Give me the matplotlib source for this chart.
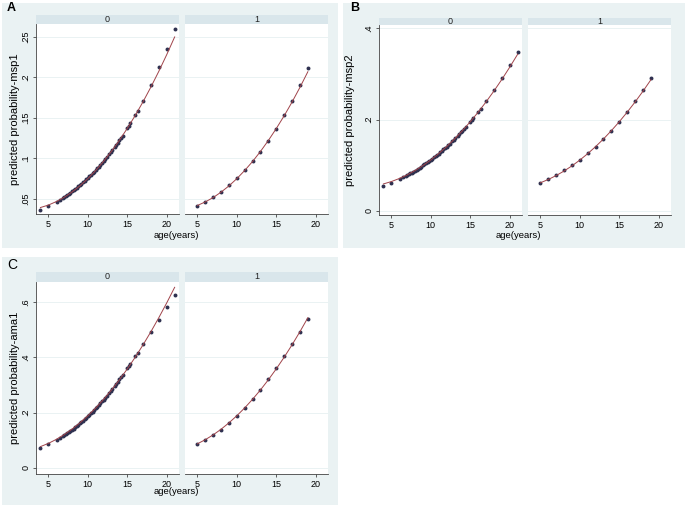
import matplotlib
matplotlib.use('Agg')
import matplotlib.pyplot as plt
from matplotlib.patches import Rectangle

plt.rcParams['font.family'] = ['Liberation Sans', 'DejaVu Sans']

W, H = 686, 509

# ages, group 0 (many children) and group 1
age0 = [4, 5, 6.1, 6.5, 6.8,
        7.0, 7.2, 7.4, 7.6, 7.8, 8.0, 8.2, 8.4, 8.6, 8.8, 9.0, 9.2, 9.4, 9.6, 9.8,
        10.0, 10.2, 10.4, 10.6, 10.8, 11.0, 11.2, 11.4, 11.6, 11.8, 12.0,
        12.2, 12.4, 12.7, 12.9, 13.1, 13.4, 13.6, 13.8, 14.0, 14.2, 14.4,
        15.0, 15.2, 15.4, 16.0, 16.3, 17, 18, 19, 20, 21]
age1 = [5, 6, 7, 8, 9, 10, 11, 12, 13, 14, 15, 16, 17, 18, 19]
fit_age0 = [4, 5, 6, 7, 8, 9, 10, 11, 12, 13, 14, 15, 16, 17, 18, 19, 20, 21]
fit_age1 = age1

# predicted probabilities
msp1_0 = [.0356, .0404, .0464, .0489, .0507,
          .0520, .0534, .0547, .0561, .0575, .0590, .0605, .0620, .0636, .0652, .0668, .0685, .0702, .0719, .0737,
          .0755, .0774, .0794, .0813, .0833, .0853, .0874, .0896, .0917, .0940, .0963,
          .0986, .1010, .1047, .1072, .1098, .1137, .1164, .1192, .1220, .1248, .1278,
          .1369, .1400, .1432, .1533, .1585, .1713, .1910, .2124, .2354, .2600]
msp1_1 = [.0405, .0459, .0516, .0587, .0665, .0752, .0851, .0963, .1083, .1215, .1364, .1533, .1711, .1905, .2120]
msp1_fit0 = [.0390, .0420, .0463, .0516, .0582, .0659, .0748, .0849, .0962, .1086, .1221, .1369, .1528, .1699,
             .1882, .2076, .2282, .2500]
msp1_fit1 = [.0415, .0459, .0513, .0580, .0657, .0747, .0848, .0960, .1084, .1220, .1367, .1525, .1695, .1877, .2070]

msp2_0 = [.0540, .0612, .0700, .0735, .0763,
          .0781, .0800, .0820, .0840, .0861, .0882, .0903, .0925, .0947, .0970, .0994, .1017, .1042, .1067, .1092,
          .1118, .1144, .1171, .1199, .1227, .1256, .1285, .1315, .1345, .1376, .1407,
          .1439, .1472, .1523, .1557, .1592, .1646, .1682, .1719, .1757, .1796, .1835,
          .1956, .1998, .2040, .2172, .2240, .2404, .2653, .2917, .3197, .3489]
msp2_1 = [.0606, .0693, .0788, .0891, .1000, .1117, .1263, .1409, .1577, .1759, .1956, .2168, .2401, .2650, .2920]
msp2_fit0 = [.0590, .0642, .0708, .0788, .0883, .0993, .1116, .1255, .1407, .1574, .1756, .1952, .2162, .2387,
             .2626, .2879, .3148, .3430]
msp2_fit1 = [.0615, .0687, .0773, .0872, .0985, .1112, .1253, .1407, .1575, .1757, .1952, .2161, .2384, .2620, .2870]

ama1_0 = [.0723, .0853, .1021, .1089, .1142,
          .1179, .1217, .1256, .1296, .1337, .1379, .1423, .1467, .1513, .1560, .1608, .1657, .1707, .1759, .1811,
          .1865, .1921, .1977, .2035, .2094, .2154, .2215, .2278, .2342, .2407, .2473,
          .2541, .2610, .2715, .2787, .2860, .2971, .3047, .3124, .3202, .3281, .3360,
          .3605, .3689, .3772, .4029, .4160, .4468, .4917, .5366, .5809, .6239]
ama1_1 = [.0867, .1012, .1193, .1386, .1614, .1880, .2169, .2482, .2831, .3217, .3614, .4048, .4470, .4928, .5386]
ama1_fit0 = [.0770, .0886, .1030, .1202, .1402, .1630, .1885, .2168, .2479, .2818, .3185, .3579, .4001, .4451,
             .4929, .5435, .5969, .6530]
ama1_fit1 = [.0870, .1019, .1194, .1397, .1628, .1885, .2170, .2482, .2821, .3188, .3582, .4003, .4452, .4927, .5430]

BG = '#eaf2f3'
STRIP = '#d9e6eb'
DOT = '#2f3150'
LINE = '#a0434a'


def rect(x0, y0, x1, y1):
    return [x0 / W, 1 - y1 / H, (x1 - x0) / W, (y1 - y0) / H]


fig = plt.figure(figsize=(W / 100, H / 100), dpi=100)
fig.patch.set_facecolor('white')


def panel(letter, box, strip_y, plot_y, xs0, xs1, ylim, yticks, ylabels, ytitle, ytitle_x, xtitle_xy,
          pts0, fit0, pts1, fit1, letter_xy, bold=True):
    bx0, by0, bx1, by1 = box
    fig.patches.append(Rectangle((bx0 / W, 1 - by1 / H), (bx1 - bx0) / W, (by1 - by0) / H,
                                 transform=fig.transFigure, facecolor=BG, edgecolor='none', zorder=-2))
    fig.text(letter_xy[0] / W, 1 - letter_xy[1] / H, letter, fontsize=9 if bold else 10,
             fontweight='bold' if bold else 'normal', ha='left', va='center')
    for k, (xa, xb) in enumerate([xs0, xs1]):
        fig.patches.append(Rectangle((xa / W, 1 - strip_y[1] / H), (xb - xa) / W, (strip_y[1] - strip_y[0]) / H,
                                     transform=fig.transFigure, facecolor=STRIP, edgecolor='none', zorder=-1))
        fig.text((xa + xb) / 2 / W, 1 - (strip_y[0] + strip_y[1]) / 2 / H, str(k), fontsize=6.5,
                 ha='center', va='center', color='#222222')
        ax = fig.add_axes(rect(xa, plot_y[0], xb, plot_y[1]))
        ax.set_zorder(2)
        ax.set_facecolor('white')
        ages, probs = (age0, pts0) if k == 0 else (age1, pts1)
        fa, fv = (fit_age0, fit0) if k == 0 else (fit_age1, fit1)
        ax.scatter(ages, probs, s=8, color=DOT, linewidths=0, zorder=3)
        ax.plot(fa, fv, color=LINE, lw=0.7, zorder=4)
        ax.set_xlim(3.44, 21.55)
        ax.set_ylim(*ylim)
        ax.set_xticks([5, 10, 15, 20])
        ax.set_yticks(yticks)
        ax.grid(axis='y', color=BG, lw=0.7)
        ax.set_axisbelow(True)
        for s in ['top', 'right']:
            ax.spines[s].set_visible(False)
        ax.spines['bottom'].set_color('#444444')
        ax.spines['bottom'].set_linewidth(0.6)
        ax.tick_params(axis='x', labelsize=6.5, length=2.5, width=0.6, color='#444444', pad=1.5)
        if k == 0:
            ax.spines['left'].set_color('#444444')
            ax.spines['left'].set_linewidth(0.6)
            ax.set_yticklabels(ylabels, rotation=90, va='center')
            ax.tick_params(axis='y', labelsize=6.5, length=2.5, width=0.6, color='#444444', pad=1.5)
        else:
            ax.spines['left'].set_visible(False)
            ax.tick_params(axis='y', left=False, labelleft=False)
    mid = (plot_y[0] + plot_y[1]) / 2
    fig.text(ytitle_x / W, 1 - mid / H, ytitle, rotation=90, fontsize=8, ha='center', va='center')
    fig.text(xtitle_xy[0] / W, 1 - xtitle_xy[1] / H, 'age(years)', fontsize=6.8, ha='center', va='center')


panel('A', (2, 3, 338, 248), (15, 24), (24, 214), (36, 179), (185, 328),
      (0.031, 0.266), [.05, .1, .15, .2, .25], ['.05', '.1', '.15', '.2', '.25'],
      'predicted probability-msp1', 15, (176, 235),
      msp1_0, msp1_fit0, msp1_1, msp1_fit1, (7, 8))

panel('B', (343, 3, 685, 248), (18, 25), (25, 215), (379, 522), (528, 671),
      (-0.009, 0.407), [0, .2, .4], ['0', '.2', '.4'],
      'predicted probability-msp2', 350, (518, 235),
      msp2_0, msp2_fit0, msp2_1, msp2_fit1, (350, 8))

panel('C', (2, 257, 338, 505), (272, 281.5), (281.5, 474), (36, 179), (185, 328),
      (-0.022, 0.674), [0, .2, .4, .6], ['0', '.2', '.4', '.6'],
      'predicted probability-ama1', 15, (176, 492),
      ama1_0, ama1_fit0, ama1_1, ama1_fit1, (7, 265), bold=False)

fig.savefig('out.png', dpi=100, facecolor='white')
